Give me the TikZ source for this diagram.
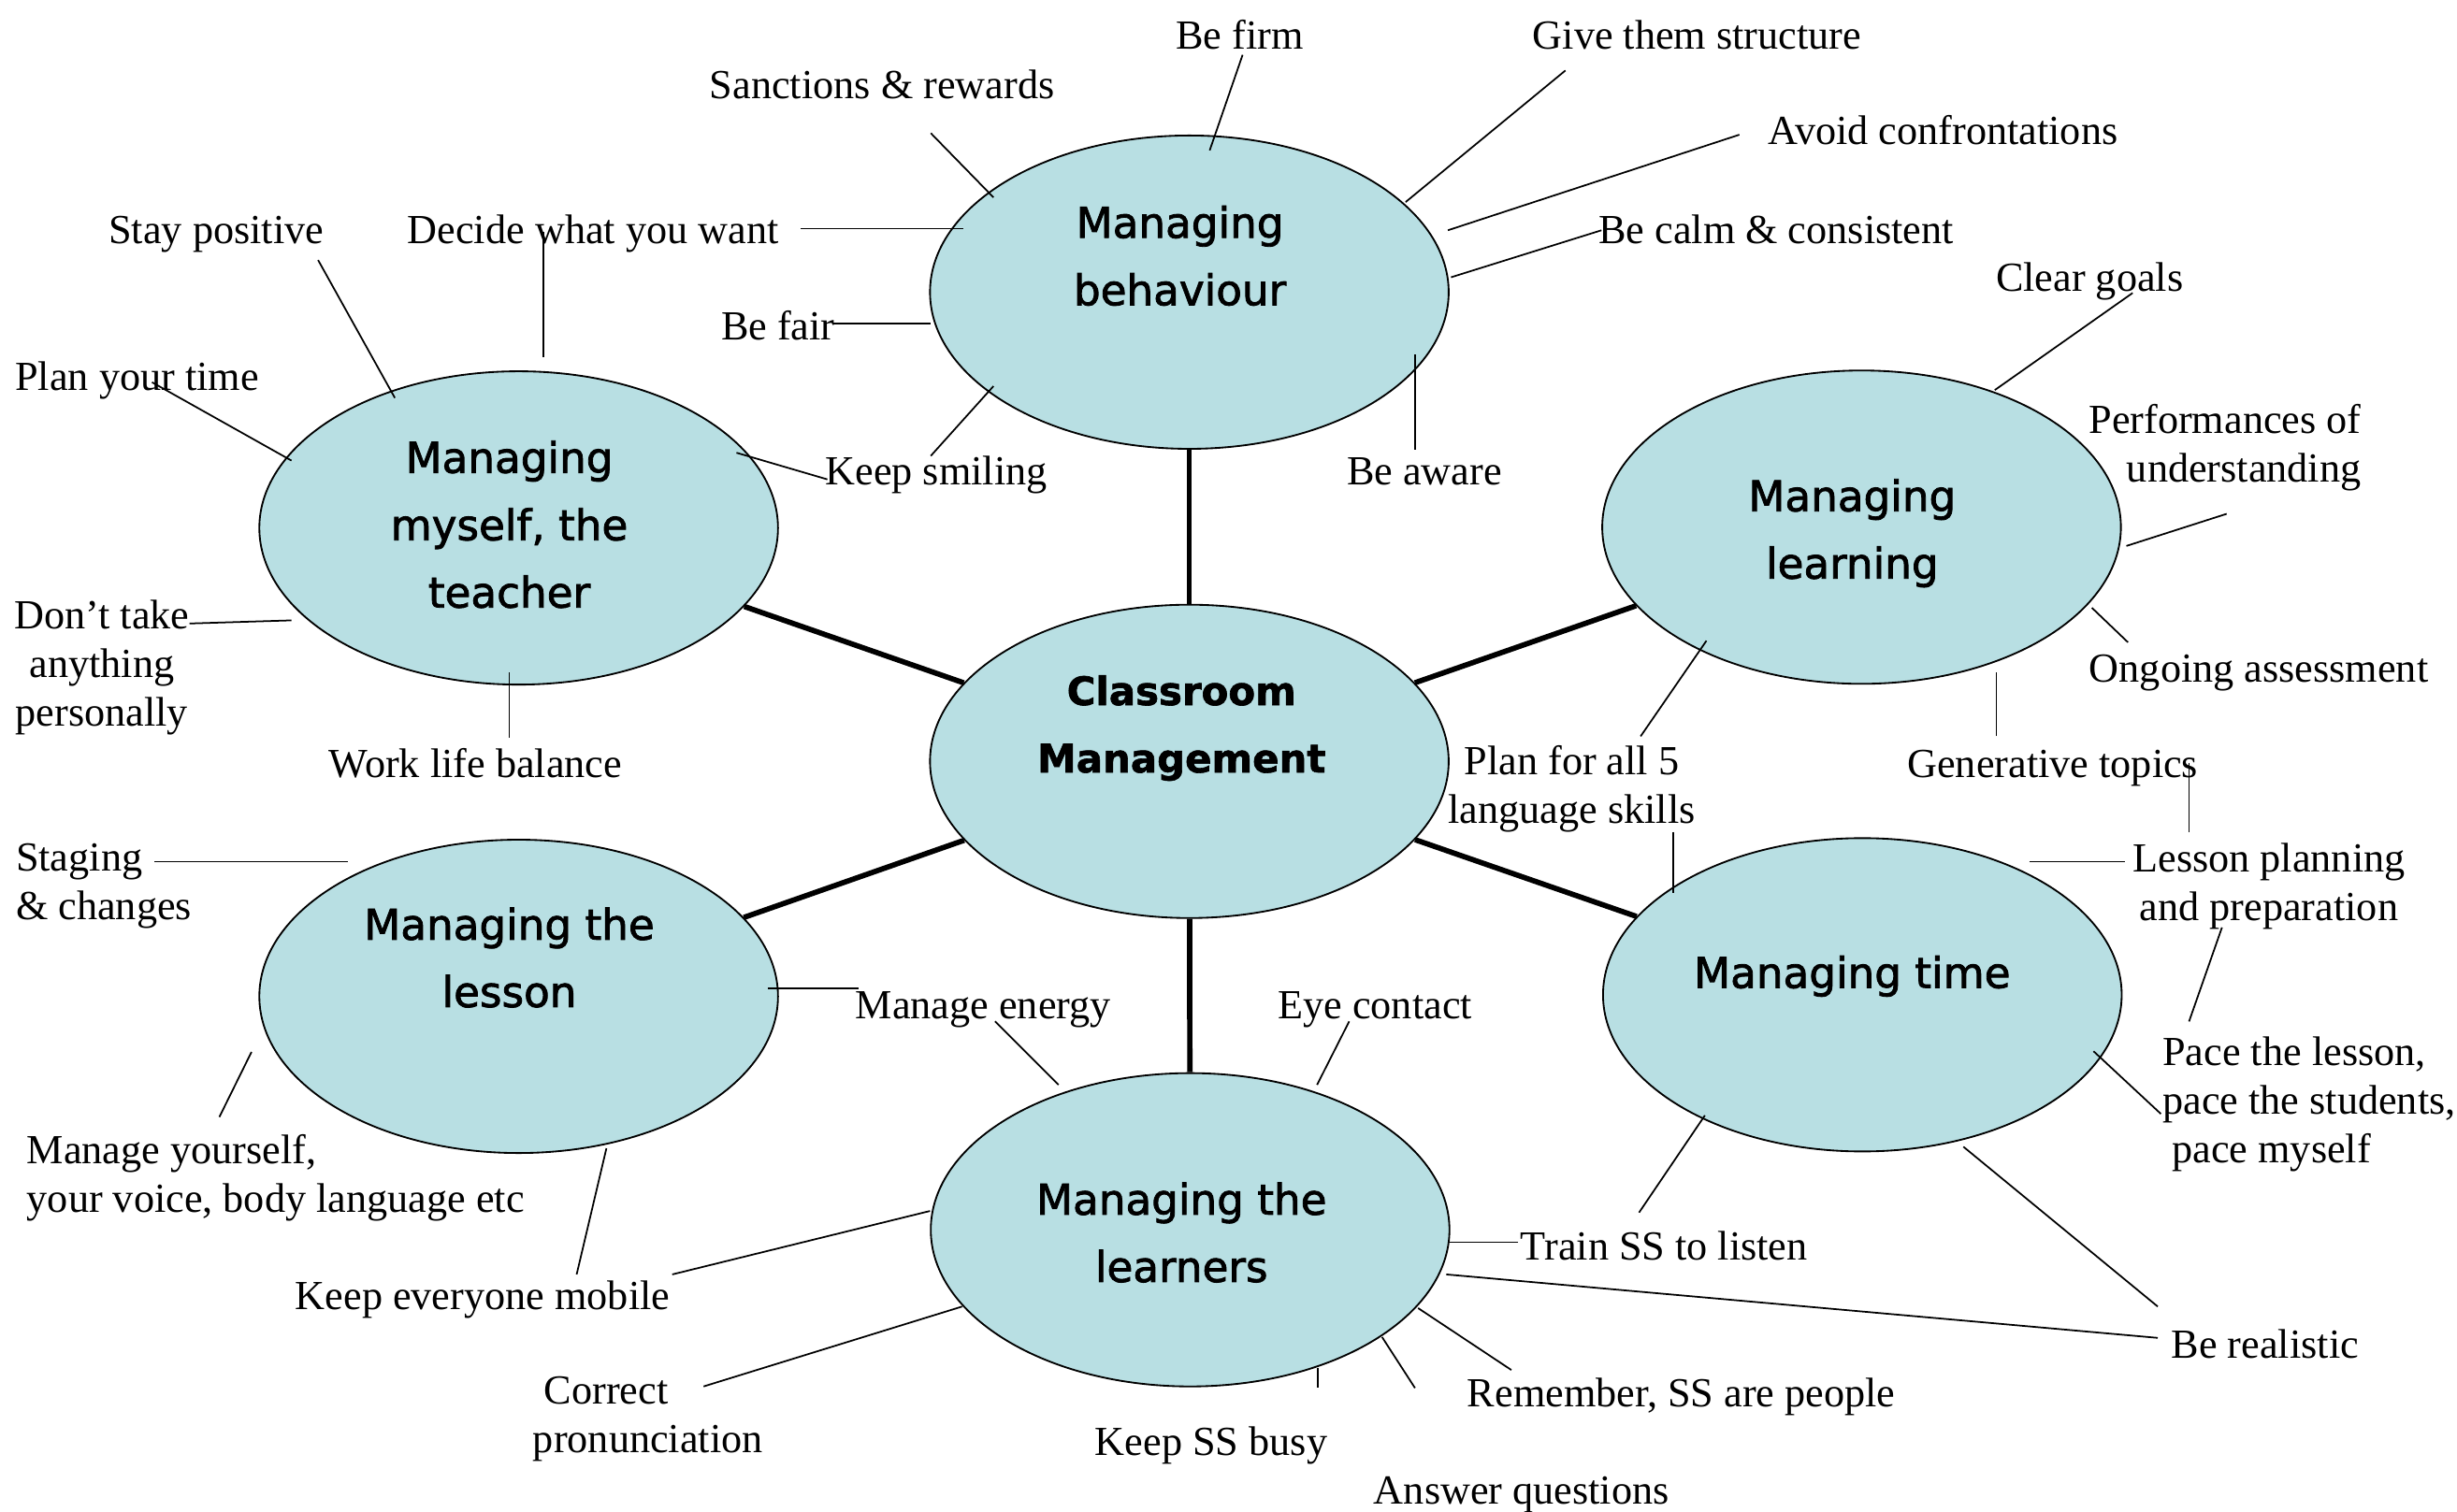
\documentclass[tikz,border=0pt]{standalone}
\usepackage{fontspec}
\setmainfont{Liberation Serif}
\newfontfamily\ellfont[FakeBold=1.8]{DejaVu Sans}
\newfontfamily\ellfontB[FakeBold=1.5]{DejaVu Sans Bold}
\usetikzlibrary{shapes.geometric}
\definecolor{ellfill}{RGB}{184,223,227}
\begin{document}
\begin{tikzpicture}[x=1pt,y=-1pt,
  bubble/.style={ellipse, draw=black, line width=1.1pt, fill=ellfill,
    minimum width=331pt, minimum height=200pt, inner sep=0pt},
  title/.style={font=\ellfont\fontsize{27}{43}\selectfont, align=center, inner sep=0pt,
    execute at begin node=\strut, execute at end node=\strut},
  titleB/.style={title, font=\ellfontB\fontsize{25}{43}\selectfont},
  lab/.style={font=\fontsize{26.4}{31}\selectfont, align=center, inner sep=0pt,
    execute at begin node=\strut, execute at end node=\strut},
  spoke/.style={line width=3.4pt},
  conn/.style={line width=1.05pt}]
\useasboundingbox (0,0) rectangle (1568,965);
\fill[white] (0,0) rectangle (1568,965);

% ellipses
\node[bubble] (beh) at (759,186.5) {};
\node[bubble] (self) at (331,337) {};
\node[bubble] (learn) at (1188,336.5) {};
\node[bubble] (cm) at (759,486) {};
\node[bubble] (lesson) at (331,636) {};
\node[bubble] (time) at (1188.5,635) {};
\node[bubble] (lrn) at (759.5,785) {};

% spokes
\draw[spoke] (cm) -- (beh);
\draw[spoke] (cm) -- (self);
\draw[spoke] (cm) -- (learn);
\draw[spoke] (cm) -- (lesson);
\draw[spoke] (cm) -- (time);
\draw[spoke] (cm) -- (lrn);

% titles
\node[title] (behT) at (753,169.5) {Managing\\behaviour};
\node[title] (selfT) at (325,341) {Managing\\myself, the\\teacher};
\node[title] (learnT) at (1182,344) {Managing\\learning};
\node[titleB] (cmT) at (754,468.5) {Classroom\\Management};
\node[title] (lessonT) at (325,617.5) {Managing the\\lesson};
\node[title] (timeT) at (1182,622) {Managing time};
\node[title] (lrnT) at (754,793) {Managing the\\learners};

% labels
\node[lab] (l1) at (791,25) {Be firm};
\node[lab] (l2) at (1083,25) {Give them structure};
\node[lab] (l3) at (563,57) {Sanctions \& rewards};
\node[lab] (l4) at (1240,86) {Avoid confrontations};
\node[lab] (l5) at (378.5,149) {Decide what you want};
\node[lab] (l6) at (138,149) {Stay positive};
\node[lab] (l7) at (1133.5,149) {Be calm \& consistent};
\node[lab] (l8) at (1333.5,180) {Clear goals};
\node[lab] (l9) at (496.5,211) {Be fair};
\node[lab] (l10) at (87.5,243) {Plan your time};
\node[lab, anchor=east, align=right] (l11) at (1507,287.5) {Performances of\\understanding};
\node[lab] (l12) at (597.5,303) {Keep smiling};
\node[lab] (l13) at (909,303) {Be aware};
\node[lab] (l14) at (65,428) {Don’t take\\anything\\personally};
\node[lab] (l15) at (1441.5,429) {Ongoing assessment};
\node[lab] (l16) at (303.5,490) {Work life balance};
\node[lab] (l17) at (1003,505.5) {Plan for all 5\\language skills};
\node[lab] (l18) at (1310,490) {Generative topics};
\node[lab, anchor=west, align=left] (l19) at (10,567.5) {Staging\\\& changes};
\node[lab] (l20) at (1448,567.5) {Lesson planning\\and preparation};
\node[lab] (l21) at (627.5,644) {Manage energy};
\node[lab] (l22) at (877.5,644) {Eye contact};
\node[lab, anchor=west, align=left] (l23) at (1380,706.5) {Pace the lesson,\\pace the students,\\\hspace*{6pt}pace myself};
\node[lab, anchor=west, align=left] (l24) at (17,753.5) {Manage yourself,\\your voice, body language etc};
\node[lab] (l25) at (1062,798) {Train SS to listen};
\node[lab] (l26) at (308,830) {Keep everyone mobile};
\node[lab] (l27) at (1445.5,861) {Be realistic};
\node[lab, anchor=west, align=left] (l28) at (340,907.5) {\hspace*{7pt}Correct\\pronunciation};
\node[lab] (l29) at (1073,892) {Remember, SS are people};
\node[lab] (l30) at (773,923) {Keep SS busy};
\node[lab] (l31) at (971,954) {Answer questions};

% free ends
\coordinate (c1) at (793,35);
\coordinate (c2) at (594,85);
\coordinate (c3) at (999,45);
\coordinate (c4a) at (1110,86);
\coordinate (c4b) at (924,147);
\coordinate (c5) at (1022,147);
\coordinate (c6) at (511,146);
\coordinate (c7) at (532,206.5);
\coordinate (c8) at (594,291);
\coordinate (c9) at (903,287);
\coordinate (c10) at (203,166);
\coordinate (c11a) at (347,148);
\coordinate (c11b) at (347,228);
\coordinate (c12) at (97,244);
\coordinate (c13) at (528,306);
\coordinate (c14) at (121,398);
\coordinate (c15) at (325,471);
\coordinate (c16) at (1361,187);
\coordinate (c17a) at (1421,328);
\coordinate (c17b) at (1357,348.5);
\coordinate (c18) at (1358,410);
\coordinate (c19a) at (1274,470);
\coordinate (c19b) at (1274,429);
\coordinate (c20) at (1047,470);
\coordinate (c21a) at (1295,550);
\coordinate (c21b) at (1356,550);
\coordinate (c22a) at (1397,487);
\coordinate (c22b) at (1397,531);
\coordinate (c23a) at (1418,592);
\coordinate (c23b) at (1397,652);
\coordinate (c24) at (1379,711);
\coordinate (c25) at (1377,834);
\coordinate (c26) at (1046,774);
\coordinate (c27) at (1068,531);
\coordinate (c28) at (1377,854);
\coordinate (c29) at (969,793);
\coordinate (c30) at (635,652);
\coordinate (c31) at (861,652);
\coordinate (c32) at (429,813.5);
\coordinate (c33) at (449,885);
\coordinate (c34a) at (841,873);
\coordinate (c34b) at (841,886);
\coordinate (c35) at (903,886);
\coordinate (c36) at (964.5,874.5);
\coordinate (c37) at (548,631);
\coordinate (c38) at (368,813.5);
\coordinate (c39a) at (140,713);
\coordinate (c39b) at (160.5,671.5);
\coordinate (c40a) at (98.5,550);
\coordinate (c40b) at (222,550);

% connectors: Managing behaviour
\draw[conn] (c1) -- ([shift={(13,-90.5)}]beh.center);
\draw[conn] (c2) -- ([shift={(-125,-60.5)}]beh.center);
\draw[conn] (c3) -- ([shift={(138,-57.5)}]beh.center);
\draw[conn] (c4a) -- (c4b);
\draw[conn] (c5) -- ([shift={(167,-9.5)}]beh.center);
\draw[conn] (c6) -- ([shift={(-144,-40.5)}]beh.center);
\draw[conn] (c7) -- ([shift={(-165,20)}]beh.center);
\draw[conn] (c8) -- ([shift={(-125,60)}]beh.center);
\draw[conn] (c9) -- ([shift={(144,39.5)}]beh.center);
% Managing myself
\draw[conn] (c10) -- ([shift={(-79,-83)}]self.center);
\draw[conn] (c11a) -- (c11b);
\draw[conn] (c12) -- ([shift={(-145,-43)}]self.center);
\draw[conn] (c13) -- ([shift={(139,-48)}]self.center);
\draw[conn] (c14) -- ([shift={(-145,59)}]self.center);
\draw[conn] (c15) -- ([shift={(-6,92)}]self.center);
% Managing learning
\draw[conn] (c16) -- ([shift={(85,-87.5)}]learn.center);
\draw[conn] (c17a) -- (c17b);
\draw[conn] (c18) -- ([shift={(147,51.5)}]learn.center);
\draw[conn] (c19a) -- (c19b);
\draw[conn] (c20) -- ([shift={(-99,72.5)}]learn.center);
% Managing time
\draw[conn] (c21a) -- (c21b);
\draw[conn] (c22a) -- (c22b);
\draw[conn] (c23a) -- (c23b);
\draw[conn] (c24) -- ([shift={(147.5,36)}]time.center);
\draw[conn] (c25) -- ([shift={(64.5,97)}]time.center);
\draw[conn] (c26) -- ([shift={(-100.5,77)}]time.center);
\draw[conn] (c27) -- ([shift={(-120.5,-65)}]time.center);
% Managing the learners
\draw[conn] (c28) -- ([shift={(163.5,28.5)}]lrn.center);
\draw[conn] (c29) -- ([shift={(165.5,8)}]lrn.center);
\draw[conn] (c30) -- ([shift={(-84,-92.5)}]lrn.center);
\draw[conn] (c31) -- ([shift={(81,-92.5)}]lrn.center);
\draw[conn] (c32) -- ([shift={(-166,-12)}]lrn.center);
\draw[conn] (c33) -- ([shift={(-145.5,49)}]lrn.center);
\draw[conn] (c34a) -- (c34b);
\draw[conn] (c35) -- ([shift={(122.5,68.5)}]lrn.center);
\draw[conn] (c36) -- ([shift={(145.5,50)}]lrn.center);
% Managing the lesson
\draw[conn] (c37) -- ([shift={(159,-5)}]lesson.center);
\draw[conn] (c38) -- ([shift={(56,97)}]lesson.center);
\draw[conn] (c39a) -- (c39b);
\draw[conn] (c40a) -- (c40b);
\end{tikzpicture}
\end{document}
